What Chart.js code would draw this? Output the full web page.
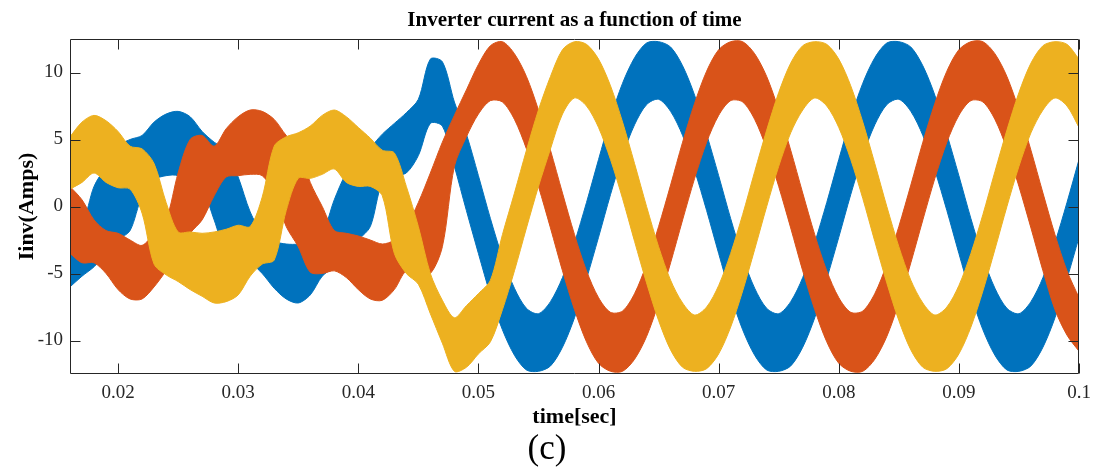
<!DOCTYPE html>
<html>
<head>
<meta charset="utf-8">
<script src="https://cdn.jsdelivr.net/npm/chart.js@4.4.1/dist/chart.umd.min.js"></script>
<style>
  html, body { margin: 0; padding: 0; background: #ffffff; }
  canvas { display: block; }
</style>
</head>
<body>
<canvas id="chart" width="1102" height="468"></canvas>
<script>
// Sample instants (s), one every millisecond
const time = [
  0.016,0.017,0.018,0.019,0.020,0.021,0.022,0.023,0.024,0.025,0.026,0.027,0.028,0.029,0.030,
  0.031,0.032,0.033,0.034,0.035,0.036,0.037,0.038,0.039,0.040,0.041,0.042,0.043,0.044,0.045,
  0.046,0.047,0.048,0.049,0.050,0.051,0.052,0.053,0.054,0.055,0.056,0.057,0.058,0.059,0.060,
  0.061,0.062,0.063,0.064,0.065,0.066,0.067,0.068,0.069,0.070,0.071,0.072,0.073,0.074,0.075,
  0.076,0.077,0.078,0.079,0.080,0.081,0.082,0.083,0.084,0.085,0.086,0.087,0.088,0.089,0.090,
  0.091,0.092,0.093,0.094,0.095,0.096,0.097,0.098,0.099,0.100
];

// Phase currents (A): upper and lower edge of the switching-ripple band
const phaseAUpper = [
  -1.6,-1.3,1.5,3.0,4.5,5.0,5.3,6.3,6.9,7.1,6.7,5.6,4.8,4.2,2.2,
  -0.4,-2.0,-2.6,-2.8,-2.8,-2.5,-2.0,0.5,2.5,3.6,4.4,5.4,6.2,7.0,8.0,
  11.0,10.8,7.8,5.4,2.3,-0.9,-3.8,-6.1,-7.6,-8.0,-7.1,-5.3,-2.7,0.3,3.5,
  6.6,9.2,11.1,12.2,12.3,11.9,10.5,8.3,5.4,2.3,-0.9,-3.8,-6.1,-7.6,-8.0,
  -7.1,-5.3,-2.7,0.3,3.5,6.6,9.2,11.1,12.2,12.3,11.9,10.5,8.3,5.4,2.3,
  -0.9,-3.8,-6.1,-7.6,-8.0,-7.1,-5.3,-2.7,0.3,3.5
];
const phaseALower = [
  -6.0,-5.2,-4.5,-3.5,-2.5,-1.8,0.8,2.0,2.3,2.3,1.6,1.3,-1.0,-3.5,-4.0,
  -4.2,-5.0,-6.1,-6.9,-7.2,-6.6,-5.2,-4.5,-3.5,-2.5,-1.5,1.8,2.3,2.5,3.8,
  6.2,6.0,3.0,-0.3,-3.5,-6.6,-9.2,-11.1,-12.2,-12.3,-11.9,-10.5,-8.3,-5.4,-2.3,
  0.9,3.8,6.1,7.6,8.0,7.1,5.3,2.7,-0.3,-3.5,-6.6,-9.2,-11.1,-12.2,-12.3,
  -11.9,-10.5,-8.3,-5.4,-2.3,0.9,3.8,6.1,7.6,8.0,7.1,5.3,2.7,-0.3,-3.5,
  -6.6,-9.2,-11.1,-12.2,-12.3,-11.9,-10.5,-8.3,-5.4,-2.3
];
const phaseBUpper = [
  1.5,0.5,-1.0,-1.8,-2.0,-2.5,-2.9,-2.0,-1.0,2.5,5.0,5.3,4.5,5.8,6.7,
  7.2,7.1,6.5,5.3,4.4,1.8,0.0,-1.8,-2.0,-2.2,-2.5,-2.8,-2.5,-1.5,0.3,
  2.5,4.8,6.8,8.7,10.6,12.0,12.3,11.4,9.7,7.2,4.2,1.0,-2.1,-4.8,-6.8,
  -7.9,-7.8,-6.5,-4.3,-1.5,1.6,4.8,7.7,10.1,11.7,12.3,12.3,11.4,9.7,7.2,
  4.2,1.0,-2.1,-4.8,-6.8,-7.9,-7.8,-6.5,-4.3,-1.5,1.6,4.8,7.7,10.1,11.7,
  12.3,12.3,11.4,9.7,7.2,4.2,1.0,-2.1,-4.8,-6.8
];
const phaseBLower = [
  -3.5,-4.2,-4.2,-5.0,-6.2,-6.9,-6.9,-6.0,-4.8,-3.5,-2.0,-1.0,0.8,2.2,2.3,
  2.4,2.3,1.0,-1.5,-3.0,-4.9,-5.0,-4.8,-5.3,-6.2,-6.9,-7.0,-6.2,-4.8,-5.0,
  -5.0,-3.0,3.0,5.2,6.9,7.9,7.8,6.5,4.3,1.5,-1.6,-4.8,-7.7,-10.1,-11.7,
  -12.3,-12.3,-11.4,-9.7,-7.2,-4.2,-1.0,2.1,4.8,6.8,7.9,7.8,6.5,4.3,1.5,
  -1.6,-4.8,-7.7,-10.1,-11.7,-12.3,-12.3,-11.4,-9.7,-7.2,-4.2,-1.0,2.1,4.8,6.8,
  7.9,7.8,6.5,4.3,1.5,-1.6,-4.8,-7.7,-9.6,-10.8
];
const phaseCUpper = [
  5.2,6.3,6.8,6.4,5.6,4.5,4.3,3.2,0.3,-1.9,-1.9,-2.0,-1.9,-1.7,-1.4,
  -1.5,0.7,4.5,5.2,5.5,6.0,6.8,7.2,6.7,5.9,5.1,4.2,4.0,1.5,-1.5,
  -5.0,-7.0,-8.3,-7.4,-6.5,-5.5,-2.1,1.0,4.2,7.2,9.7,11.7,12.3,12.1,11.0,
  9.0,6.3,3.2,0.0,-3.0,-5.5,-7.2,-8.1,-7.5,-5.9,-3.5,-0.6,2.6,5.7,8.5,
  10.7,12.0,12.3,12.1,11.0,9.0,6.3,3.2,0.0,-3.0,-5.5,-7.2,-8.1,-7.5,-5.9,
  -3.5,-0.6,2.6,5.7,8.5,10.7,12.0,12.3,12.1,11.0
];
const phaseCLower = [
  1.3,1.8,2.5,1.8,1.4,1.3,-0.5,-4.3,-5.1,-5.6,-6.2,-6.7,-7.2,-7.1,-6.6,
  -5.2,-4.3,-4.0,-0.3,2.1,2.1,2.4,2.8,1.8,1.5,1.5,0.8,-3.5,-5.0,-5.8,
  -8.0,-10.2,-12.3,-12.0,-11.0,-10.1,-7.7,-4.8,-1.6,1.5,4.3,6.9,8.1,7.5,5.9,
  3.5,0.6,-2.6,-5.7,-8.5,-10.7,-12.0,-12.3,-12.1,-11.0,-9.0,-6.3,-3.2,0.0,3.0,
  5.5,7.2,8.1,7.5,5.9,3.5,0.6,-2.6,-5.7,-8.5,-10.7,-12.0,-12.3,-12.1,-11.0,
  -9.0,-6.3,-3.2,0.0,3.0,5.5,7.2,8.1,7.5,5.9
];

// Axis ticks
const xTicks = [0.02, 0.03, 0.04, 0.05, 0.06, 0.07, 0.08, 0.09, 0.1];
const yTicks = [-10, -5, 0, 5, 10];

const colorA = '#0072BD';
const colorB = '#D95319';
const colorC = '#EDB120';
const SERIF = "'Liberation Serif', 'Times New Roman', Times, serif";
const AXIS = '#262626';

const toPoints = (vals) => vals.map((v, i) => ({ x: time[i], y: v }));

// Each phase is a band: the upper edge fills down to the lower edge.
function band(label, upper, lower, color) {
  return [
    { label: label + ' max', data: toPoints(upper), borderColor: color, backgroundColor: color,
      borderWidth: 1, pointRadius: 0, fill: '+1' },
    { label: label + ' min', data: toPoints(lower), borderColor: color, backgroundColor: color,
      borderWidth: 1, pointRadius: 0, fill: false }
  ];
}

// Box around the axes with inward tick marks on all four sides
const boxAxes = {
  id: 'boxAxes',
  afterDatasetsDraw(chart) {
    const { ctx, chartArea: a, scales: { x, y } } = chart;
    const L = Math.round(a.left) + 0.5, R = Math.round(a.right) - 0.5;
    const T = Math.round(a.top) + 0.5, B = Math.round(a.bottom) - 0.5;
    const len = 10;
    ctx.save();
    ctx.strokeStyle = AXIS;
    ctx.lineWidth = 1;
    ctx.beginPath();
    ctx.rect(L, T, R - L, B - T);
    xTicks.forEach(v => {
      const px = Math.round(x.getPixelForValue(v)) + 0.5;
      ctx.moveTo(px, B); ctx.lineTo(px, B - len);
      ctx.moveTo(px, T); ctx.lineTo(px, T + len);
    });
    yTicks.forEach(v => {
      const py = Math.round(y.getPixelForValue(v)) + 0.5;
      ctx.moveTo(L, py); ctx.lineTo(L + len, py);
      ctx.moveTo(R, py); ctx.lineTo(R - len, py);
    });
    ctx.stroke();
    ctx.restore();
  }
};

new Chart(document.getElementById('chart'), {
  type: 'line',
  data: {
    datasets: [
      ...band('Phase C', phaseCUpper, phaseCLower, colorC),
      ...band('Phase B', phaseBUpper, phaseBLower, colorB),
      ...band('Phase A', phaseAUpper, phaseALower, colorA)
    ]
  },
  options: {
    responsive: false,
    devicePixelRatio: 1,
    animation: false,
    layout: { padding: { left: 15, right: 23, top: 0, bottom: 0 } },
    elements: { line: { tension: 0.3 } },
    plugins: {
      legend: { display: false },
      tooltip: { enabled: false },
      filler: { propagate: false },
      title: {
        display: true,
        fullSize: false,
        text: 'Inverter current as a function of time',
        color: '#000000',
        font: { family: SERIF, size: 21, weight: 'bold', lineHeight: 1.2 },
        padding: { top: 8, bottom: 5.8 }
      },
      subtitle: {
        display: true,
        position: 'bottom',
        text: '(c)',
        color: '#000000',
        font: { family: SERIF, size: 35, weight: 'normal', lineHeight: 1.0 },
        padding: { top: 0, bottom: 1 }
      }
    },
    scales: {
      x: {
        type: 'linear',
        min: 0.016,
        max: 0.1,
        afterBuildTicks: (scale) => { scale.ticks = xTicks.map(v => ({ value: v })); },
        afterFit: (scale) => { scale.height = 58; },
        grid: { display: false, drawTicks: false },
        border: { display: false },
        ticks: {
          padding: 8,
          color: AXIS,
          maxRotation: 0,
          autoSkip: false,
          font: { family: SERIF, size: 19 },
          callback: (v) => String(v)
        },
        title: {
          display: true,
          text: 'time[sec]',
          color: '#000000',
          font: { family: SERIF, size: 22, weight: 'bold', lineHeight: 1.2 },
          padding: { top: 0, bottom: 1 }
        }
      },
      y: {
        type: 'linear',
        min: -12.5,
        max: 12.5,
        afterBuildTicks: (scale) => { scale.ticks = yTicks.map(v => ({ value: v })); },
        afterFit: (scale) => { scale.width = 55; },
        grid: { display: false, drawTicks: false },
        border: { display: false },
        ticks: {
          padding: 7,
          color: AXIS,
          font: { family: SERIF, size: 19 },
          callback: (v) => String(v)
        },
        title: {
          display: true,
          text: 'Iinv(Amps)',
          color: '#000000',
          font: { family: SERIF, size: 22, weight: 'bold', lineHeight: 1.2 },
          padding: { top: -1, bottom: 0 }
        }
      }
    }
  },
  plugins: [boxAxes]
});
</script>
</body>
</html>
